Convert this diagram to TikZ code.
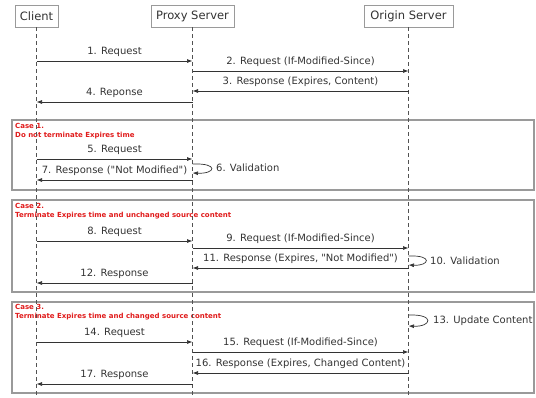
\documentclass[tikz,border=0pt]{standalone}
\usepackage{fontspec}
\setmainfont{DejaVu Sans}
\usetikzlibrary{arrows.meta}
\definecolor{boxgray}{HTML}{9A9A9A}
\definecolor{ink}{HTML}{333333}
\definecolor{casered}{HTML}{E01B1B}
\begin{document}
\begin{tikzpicture}[x=1pt,y=-1pt,
  actor/.style={draw=boxgray, line width=0.9pt, fill=white, text=ink, font=\fontsize{11.5}{13}\selectfont, minimum height=22pt, inner sep=0pt},
  life/.style={draw=ink!85, line width=0.7pt, dash pattern=on 4pt off 3pt},
  frag/.style={draw=boxgray, line width=1.2pt},
  msg/.style={draw=ink, line width=0.7pt, -{Latex[length=5.5pt,width=4pt]}},
  lbl/.style={font=\fontsize{10}{12}\selectfont, text=ink, anchor=base, inner sep=0pt, yshift=6.5pt},
  casetxt/.style={font=\fontsize{7}{9}\selectfont\bfseries, text=casered, align=left, anchor=north west, inner sep=0pt},
  side/.style={font=\fontsize{10}{12}\selectfont, text=ink, anchor=west, inner sep=0pt}]
\useasboundingbox (0,0) rectangle (536,397);

% fragments
\draw[frag] (12,120) rectangle (534,190);
\draw[frag] (12,200) rectangle (534,292);
\draw[frag] (12,302) rectangle (534,393);
\node[casetxt] (case1) at (15,123.5) {Case 1.\\Do not terminate Expires time};
\node[casetxt] (case2) at (15,203.5) {Case 2.\\Terminate Expires time and unchanged source content};
\node[casetxt] (case3) at (15,304.5) {Case 3.\\Terminate Expires time and changed source content};

% actors
\node[actor, minimum width=43pt] (client) at (36.5,16) {Client};
\node[actor, minimum width=83pt] (proxy) at (192.5,16) {Proxy Server};
\node[actor, minimum width=89pt] (origin) at (408.5,16) {Origin Server};
\coordinate (cend) at (36.5,397);
\coordinate (pend) at (192.5,397);
\coordinate (oend) at (408.5,397);
\draw[life] (client.south) -- (cend);
\draw[life] (proxy.south) -- (pend);
\draw[life] (origin.south) -- (oend);

% initial exchange
\draw[msg] (client |- 0,61) -- node[lbl]{1. Request} (proxy |- 0,61);
\draw[msg] (proxy |- 0,71) -- node[lbl]{2. Request (If-Modified-Since)} (origin |- 0,71);
\draw[msg] (origin |- 0,91) -- node[lbl]{3. Response (Expires, Content)} (proxy |- 0,91);
\draw[msg] (proxy |- 0,102) -- node[lbl]{4. Reponse} (client |- 0,102);

% case 1
\draw[msg] (client |- 0,159) -- node[lbl]{5. Request} (proxy |- 0,159);
\draw[msg] (proxy |- 0,164) .. controls +(27,-1) and +(23,1) .. (proxy |- 0,173);
\node[side] (v6) at (216,168) {6. Validation};
\draw[msg] (proxy |- 0,180) -- node[lbl]{7. Response (\textquotedbl Not Modified\textquotedbl)} (client |- 0,180);

% case 2
\draw[msg] (client |- 0,241) -- node[lbl]{8. Request} (proxy |- 0,241);
\draw[msg] (proxy |- 0,248) -- node[lbl]{9. Request (If-Modified-Since)} (origin |- 0,248);
\draw[msg] (origin |- 0,256) .. controls +(25,-1) and +(21,1) .. (origin |- 0,265);
\node[side] (v10) at (430,260.5) {10. Validation};
\draw[msg] (origin |- 0,268) -- node[lbl]{11. Response (Expires, \textquotedbl Not Modified\textquotedbl)} (proxy |- 0,268);
\draw[msg] (proxy |- 0,283) -- node[lbl]{12. Response} (client |- 0,283);

% case 3
\draw[msg] (origin |- 0,315) .. controls +(27,-1) and +(23,1) .. (origin |- 0,326);
\node[side] (u13) at (433,320.5) {13. Update Content};
\draw[msg] (client |- 0,342) -- node[lbl]{14. Request} (proxy |- 0,342);
\draw[msg] (proxy |- 0,352) -- node[lbl]{15. Request (If-Modified-Since)} (origin |- 0,352);
\draw[msg] (origin |- 0,373) -- node[lbl]{16. Response (Expires, Changed Content)} (proxy |- 0,373);
\draw[msg] (proxy |- 0,384) -- node[lbl]{17. Response} (client |- 0,384);
\end{tikzpicture}
\end{document}
